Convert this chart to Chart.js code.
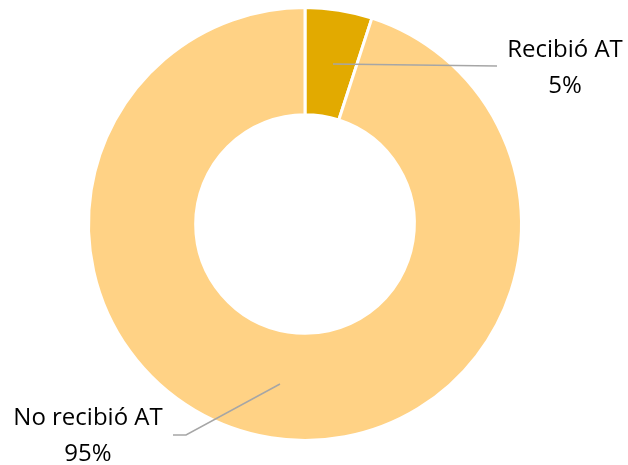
<!DOCTYPE html>
<html>
<head>
<meta charset="utf-8">
<script src="https://cdn.jsdelivr.net/npm/chart.js@4"></script>
<style>
  html, body { margin: 0; padding: 0; background: #fff; }
  #wrap { width: 628px; height: 465px; }
</style>
</head>
<body>
<div id="wrap"><canvas id="chart" width="628" height="465"></canvas></div>
<script>
const labels = ["Recibió AT", "No recibió AT"];
const values = [5, 95];
const colors = ["#E2AA00", "#FFD285"];

// label placement for each slice: text anchor + leader line path
const labelSpots = [
    { tx: 565, ty: 50, line: [[333, 64], [497, 66]] },
    { tx: 88, ty: 418, line: [[280, 384], [186, 435], [173, 435]] }
];

const calloutPlugin = {
    id: "callouts",
    afterDatasetsDraw(chart) {
        const ctx = chart.ctx;
        const total = values.reduce((a, b) => a + b, 0);
        labels.forEach((lab, i) => {
            const spot = labelSpots[i];
            ctx.save();
            ctx.strokeStyle = "#A6A6A6";
            ctx.lineWidth = 1.5;
            ctx.beginPath();
            spot.line.forEach((p, j) => j ? ctx.lineTo(p[0], p[1]) : ctx.moveTo(p[0], p[1]));
            ctx.stroke();

            ctx.fillStyle = "#000";
            ctx.font = "24px 'Open Sans', sans-serif";
            ctx.textAlign = "center";
            ctx.textBaseline = "middle";
            ctx.fillText(lab, spot.tx, spot.ty);
            ctx.fillText(Math.round(values[i] / total * 100) + "%", spot.tx, spot.ty + 36);
            ctx.restore();
        });
    }
};

new Chart(document.getElementById("chart").getContext("2d"), {
    type: "doughnut",
    data: {
        labels: labels,
        datasets: [{
            data: values,
            backgroundColor: colors,
            borderColor: "#ffffff",
            borderWidth: 3
        }]
    },
    options: {
        responsive: false,
        animation: false,
        cutout: "50.5%",
        layout: { padding: { left: 87, right: 105, top: 6, bottom: 23 } },
        plugins: {
            legend: { display: false },
            tooltip: { enabled: false }
        }
    },
    plugins: [calloutPlugin]
});
</script>
</body>
</html>
